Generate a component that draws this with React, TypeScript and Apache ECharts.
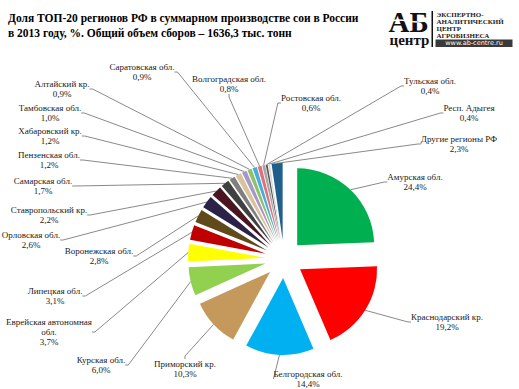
import React, { useEffect, useRef } from "react";
import * as echarts from "echarts";

const TITLE_LINES = [
  "Доля ТОП-20 регионов РФ в суммарном производстве сои в России",
  "в 2013 году, %. Общий объем сборов – 1636,3 тыс. тонн",
];

const REGIONS = [
  "Амурская обл.",
  "Краснодарский кр.",
  "Белгородская обл.",
  "Приморский кр.",
  "Курская обл.",
  "Еврейская автономная\nобл.",
  "Липецкая обл.",
  "Воронежская обл.",
  "Орловская обл.",
  "Ставропольский кр.",
  "Самарская обл.",
  "Пензенская обл.",
  "Хабаровский кр.",
  "Тамбовская обл.",
  "Алтайский кр.",
  "Саратовская обл.",
  "Волгоградская обл.",
  "Ростовская обл.",
  "Тульская обл.",
  "Респ. Адыгея",
  "Другие регионы РФ",
];

const SHARES = [24.4, 19.2, 14.4, 10.3, 6.0, 3.7, 3.1, 2.8, 2.6, 2.2, 1.7, 1.2, 1.2, 1.0, 0.9, 0.9, 0.8, 0.6, 0.4, 0.4, 2.3];

const COLORS = [
  "#00B050", "#FF0000", "#00B0F0", "#C4995B", "#92D050", "#FFFF00", "#C00000",
  "#604A1C", "#2C2248", "#4A1520", "#404040", "#7F7F7F", "#D9C39A", "#A797C7",
  "#8CC36A", "#4AACDB", "#E0707A", "#A6A6A6", "#595959", "#D9D9D9", "#1F5F8B",
];

// label layout (center x, top y) for each region's label
const LABEL_POS: [number, number][] = [
  [415, 172], [447, 312], [308, 369], [185, 359], [101, 355], [49, 317], [55, 286],
  [99, 246], [31, 230], [49, 205], [43, 176], [49, 150], [50, 126], [50, 103],
  [62, 79], [142, 62], [229, 74], [311, 93], [430, 76], [469, 103], [459, 134],
];

const fmt = (v: number) => v.toFixed(1).replace(".", ",") + "%";

const SERIF = "Liberation Serif";

export default function App() {
  const ref = useRef<HTMLDivElement>(null);
  useEffect(() => {
    if (!ref.current) return;
    const chart = echarts.init(ref.current, null, { renderer: "svg" });
    const center = [284, 259];
    chart.setOption({
      animation: false,
      backgroundColor: "#ffffff",
      graphic: [
        {
          type: "text",
          left: 8,
          top: 10,
          style: {
            text: TITLE_LINES.join("\n"),
            fontFamily: SERIF,
            fontWeight: "bold",
            fontSize: 11.5,
            lineHeight: 15,
            fill: "#000",
          },
        },
        {
          type: "group",
          left: 384,
          top: 7,
          children: [
            { type: "text", x: 0, y: 4.5, style: { text: "АБ", fontFamily: SERIF, fontWeight: "bold", fontSize: 29, lineHeight: 20, fill: "#111" } },
            { type: "text", x: 1, y: 28, style: { text: "центр", fontFamily: SERIF, fontWeight: "bold", fontSize: 15, lineHeight: 10, fill: "#111" } },
            { type: "bezierCurve", shape: { x1: -2, y1: 16, x2: 40, y2: 12, cpx1: 12, cpy1: 8, cpx2: 28, cpy2: 20 }, style: { stroke: "#fff", lineWidth: 1.5, fill: null } },
            { type: "rect", shape: { x: 43, y: 4, width: 1.5, height: 36 }, style: { fill: "#111" } },
            { type: "text", x: 48, y: 4, style: { text: "ЭКСПЕРТНО-\nАНАЛИТИЧЕСКИЙ\nЦЕНТР\nАГРОБИЗНЕСА", fontFamily: SERIF, fontWeight: "bold", fontSize: 7, lineHeight: 7.2, fill: "#222" } },
            { type: "rect", shape: { x: 47, y: 32.5, width: 77, height: 7.5 }, style: { fill: "#3a3a3a" } },
            { type: "text", x: 85.5, y: 36.3, style: { text: "www.ab-centre.ru", fontFamily: "DejaVu Sans", fontSize: 6.5, fill: "#fff", align: "center", verticalAlign: "middle" } },
          ],
        },
      ],
      series: [
        {
          type: "pie",
          center,
          radius: 77,
          startAngle: 90,
          clockwise: true,
          selectedMode: "multiple",
          selectedOffset: 19,
          silent: true,
          emphasis: { disabled: true },
          select: { itemStyle: { borderWidth: 0 } },
          itemStyle: { borderWidth: 0 },
          label: { show: false },
          labelLine: { show: false },
          data: REGIONS.map((name, i) => ({
            name,
            value: SHARES[i],
            selected: true,
            itemStyle: { color: COLORS[i] },
          })),
        },
        {
          type: "pie",
          center,
          radius: 96,
          startAngle: 90,
          clockwise: true,
          selectedMode: false,
          silent: true,
          avoidLabelOverlap: false,
          minShowLabelAngle: 0,
          emphasis: { disabled: true },
          itemStyle: { color: "rgba(0,0,0,0)", borderWidth: 0 },
          label: {
            show: true,
            position: "outside",
            fontFamily: SERIF,
            fontSize: 9,
            lineHeight: 10,
            color: "#1a1a1a",
            align: "center",
            formatter: (p: any) => `${p.name}\n${fmt(p.value)}`,
          },
          labelLine: {
            show: true,
            length: 5,
            length2: 3,
            lineStyle: { color: "#6b6b6b", width: 0.8 },
          },
          labelLayout: (params: any) => {
            const pos = LABEL_POS[params.dataIndex];
            return { x: pos[0], y: pos[1], align: "center", verticalAlign: "top" };
          },
          data: REGIONS.map((name, i) => ({ name, value: SHARES[i] })),
        },
      ],
    });
    return () => chart.dispose();
  }, []);
  return <div ref={ref} style={{ position: "absolute", left: 0, top: 0, width: 519, height: 389 }} />;
}
